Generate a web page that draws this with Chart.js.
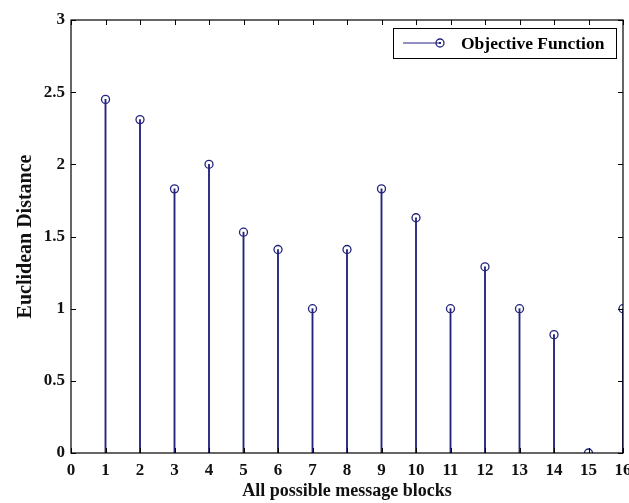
<!DOCTYPE html>
<html>
<head>
<meta charset="utf-8">
<script src="https://cdn.jsdelivr.net/npm/chart.js@4"></script>
<style>
  html, body { margin: 0; padding: 0; background: #fff; }
  #wrap { width: 629px; height: 503px; }
</style>
</head>
<body>
<div id="wrap"><canvas id="stemChart" width="629" height="503"></canvas></div>
<script>
// data
const blocks = [1, 2, 3, 4, 5, 6, 7, 8, 9, 10, 11, 12, 13, 14, 15, 16];
const distances = [2.45, 2.31, 1.83, 2.0, 1.53, 1.41, 1.0, 1.41, 1.83, 1.63, 1.0, 1.29, 1.0, 0.82, 0, 1.0];
const xTicks = [0, 1, 2, 3, 4, 5, 6, 7, 8, 9, 10, 11, 12, 13, 14, 15, 16];
const yTicks = [0, 0.5, 1, 1.5, 2, 2.5, 3];
const seriesName = 'Objective Function';

const stemColor = '#23237e';
const fontFamily = '"Liberation Serif", "Times New Roman", serif';

const points = blocks.map((b, i) => ({ x: b, y: distances[i] }));

// inward ticks on all four sides plus the frame
const frameTicks = {
    id: 'frameTicks',
    afterDraw(chart) {
        const { ctx, chartArea: a, scales } = chart;
        const len = 5;
        ctx.save();
        ctx.strokeStyle = '#000';
        ctx.lineWidth = 1;
        ctx.beginPath();
        xTicks.forEach(v => {
            const px = Math.round(scales.x.getPixelForValue(v)) + 0.5;
            ctx.moveTo(px, a.bottom); ctx.lineTo(px, a.bottom - len);
            ctx.moveTo(px, a.top); ctx.lineTo(px, a.top + len);
        });
        yTicks.forEach(v => {
            const py = Math.round(scales.y.getPixelForValue(v)) + 0.5;
            ctx.moveTo(a.left, py); ctx.lineTo(a.left + len, py);
            ctx.moveTo(a.right, py); ctx.lineTo(a.right - len, py);
        });
        ctx.stroke();
        ctx.lineWidth = 1.2;
        ctx.strokeRect(a.left, a.top, a.right - a.left, a.bottom - a.top);
        ctx.restore();
    }
};

// MATLAB-style legend box in the top right corner
const boxLegend = {
    id: 'boxLegend',
    afterDraw(chart) {
        const { ctx, chartArea: a } = chart;
        const w = 223, h = 30;
        const x0 = a.right - 7 - w, y0 = a.top + 8;
        ctx.save();
        ctx.fillStyle = '#fff';
        ctx.fillRect(x0, y0, w, h);
        ctx.strokeStyle = '#000';
        ctx.lineWidth = 1;
        ctx.strokeRect(x0 + 0.5, y0 + 0.5, w, h);
        const my = y0 + h / 2;
        ctx.strokeStyle = stemColor;
        ctx.beginPath();
        ctx.moveTo(x0 + 10, my); ctx.lineTo(x0 + 47, my);
        ctx.stroke();
        ctx.lineWidth = 1.3;
        ctx.beginPath();
        ctx.arc(x0 + 47, my, 4, 0, Math.PI * 2);
        ctx.stroke();
        ctx.fillStyle = stemColor;
        ctx.fillRect(x0 + 46, my - 1, 2, 2);
        ctx.fillStyle = '#000';
        ctx.font = 'bold 17.5px ' + fontFamily;
        ctx.textBaseline = 'middle';
        ctx.fillText(seriesName, x0 + 68, my + 1);
        ctx.restore();
    }
};

new Chart(document.getElementById('stemChart'), {
    data: {
        datasets: [{
            type: 'bar',
            data: points,
            backgroundColor: stemColor,
            barThickness: 1.2,
            order: 2
        }, {
            type: 'scatter',
            label: seriesName,
            data: points,
            showLine: false,
            pointStyle: 'circle',
            pointRadius: 4,
            pointBorderWidth: 1.3,
            pointBorderColor: stemColor,
            pointBackgroundColor: 'rgba(255,255,255,0)',
            order: 1
        }]
    },
    options: {
        responsive: false,
        animation: false,
        layout: { padding: 0 },
        plugins: {
            legend: { display: false },
            tooltip: { enabled: false }
        },
        scales: {
            x: {
                type: 'linear',
                min: 0,
                max: 16,
                offset: false,
                grid: { display: false, drawTicks: false },
                border: { display: false },
                afterBuildTicks: s => { s.ticks = xTicks.map(v => ({ value: v })); },
                afterFit: s => { s.height = 50; s.paddingLeft = 0; s.paddingRight = 0; },
                ticks: {
                    padding: 7,
                    color: '#111',
                    font: { family: fontFamily, size: 17, weight: 'bold' },
                    maxRotation: 0,
                    autoSkip: false,
                    callback: v => String(v)
                },
                title: {
                    display: true,
                    text: 'All possible message blocks',
                    color: '#111',
                    padding: { top: 0, bottom: 1 },
                    font: { family: fontFamily, size: 18, weight: 'bold' }
                }
            },
            y: {
                min: 0,
                max: 3,
                grid: { display: false, drawTicks: false },
                border: { display: false },
                afterBuildTicks: s => { s.ticks = yTicks.map(v => ({ value: v })); },
                afterFit: s => { s.width = 71; s.paddingTop = 0; s.paddingBottom = 0; },
                ticks: {
                    padding: 6,
                    color: '#111',
                    font: { family: fontFamily, size: 17, weight: 'bold' },
                    callback: v => String(v)
                },
                title: {
                    display: true,
                    text: 'Euclidean Distance',
                    color: '#111',
                    padding: { top: 14, bottom: 0 },
                    font: { family: fontFamily, size: 20, weight: 'bold' }
                }
            },
            xTop: {
                type: 'linear',
                position: 'top',
                min: 0,
                max: 16,
                grid: { display: false, drawTicks: false },
                border: { display: false },
                ticks: { display: false },
                afterFit: s => { s.height = 20; }
            },
            yRight: {
                position: 'right',
                min: 0,
                max: 3,
                grid: { display: false, drawTicks: false },
                border: { display: false },
                ticks: { display: false },
                afterFit: s => { s.width = 6; }
            }
        }
    },
    plugins: [frameTicks, boxLegend]
});
</script>
</body>
</html>
